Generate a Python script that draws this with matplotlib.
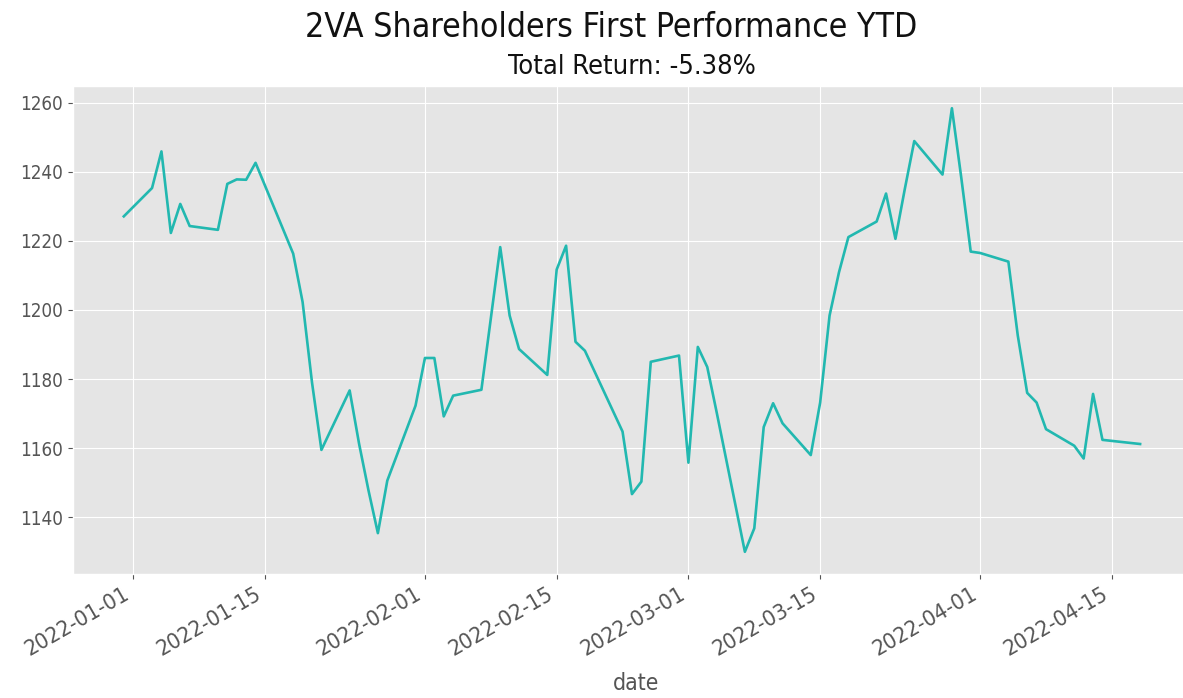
import matplotlib
matplotlib.use("Agg")
import matplotlib.pyplot as plt
import matplotlib.dates as mdates
import pandas as pd

plt.style.use("ggplot")
plt.rcParams["font.family"] = ["DejaVu Sans"]
plt.rcParams["font.stretch"] = "condensed"

dates = [
    "2021-12-31", "2022-01-03", "2022-01-04", "2022-01-05", "2022-01-06", "2022-01-07",
    "2022-01-10", "2022-01-11", "2022-01-12", "2022-01-13", "2022-01-14",
    "2022-01-18", "2022-01-19", "2022-01-20", "2022-01-21",
    "2022-01-24", "2022-01-25", "2022-01-26", "2022-01-27", "2022-01-28",
    "2022-01-31", "2022-02-01", "2022-02-02", "2022-02-03", "2022-02-04",
    "2022-02-07", "2022-02-08", "2022-02-09", "2022-02-10", "2022-02-11",
    "2022-02-14", "2022-02-15", "2022-02-16", "2022-02-17", "2022-02-18",
    "2022-02-22", "2022-02-23", "2022-02-24", "2022-02-25",
    "2022-02-28", "2022-03-01", "2022-03-02", "2022-03-03", "2022-03-04",
    "2022-03-07", "2022-03-08", "2022-03-09", "2022-03-10", "2022-03-11",
    "2022-03-14", "2022-03-15", "2022-03-16", "2022-03-17", "2022-03-18",
    "2022-03-21", "2022-03-22", "2022-03-23", "2022-03-24", "2022-03-25",
    "2022-03-28", "2022-03-29", "2022-03-30", "2022-03-31", "2022-04-01",
    "2022-04-04", "2022-04-05", "2022-04-06", "2022-04-07", "2022-04-08",
    "2022-04-11", "2022-04-12", "2022-04-13", "2022-04-14", "2022-04-18",
]

values = [
    1227.1, 1235.3, 1245.9, 1222.3, 1230.7, 1224.3,
    1223.2, 1236.5, 1237.8, 1237.7, 1242.6,
    1216.3, 1202.3, 1179.0, 1159.5,
    1176.7, 1161.3, 1147.8, 1135.4, 1150.6,
    1172.3, 1186.1, 1186.1, 1169.2, 1175.2,
    1176.9, 1197.5, 1218.2, 1198.4, 1188.7,
    1181.2, 1211.7, 1218.6, 1190.8, 1188.2,
    1164.8, 1146.7, 1150.3, 1185.0,
    1186.8, 1155.8, 1189.3, 1183.5, 1170.4,
    1130.0, 1136.8, 1166.1, 1173.0, 1167.2,
    1158.0, 1173.2, 1198.4, 1210.9, 1221.1,
    1225.6, 1233.7, 1220.6, 1235.1, 1248.9,
    1239.2, 1258.4, 1238.2, 1216.9, 1216.5,
    1214.0, 1192.6, 1176.0, 1173.2, 1165.5,
    1160.7, 1157.0, 1175.7, 1162.4, 1161.2,
]

title = "2VA Shareholders First Performance YTD"
subtitle = "Total Return: -5.38%"
xlabel = "date"

series = pd.Series(values, index=pd.to_datetime(dates))

fig = plt.figure(figsize=(11.83, 6.98), dpi=100)
ax = fig.add_axes([0.0617, 0.1777, 0.945, 0.699])

ax.plot(series.index, series.values, color="#22B8B0", linewidth=1.9)

ax.xaxis.set_major_locator(mdates.DayLocator(bymonthday=[1, 15]))
ax.xaxis.set_major_formatter(mdates.DateFormatter("%Y-%m-%d"))
ax.set_yticks([1140, 1160, 1180, 1200, 1220, 1240, 1260])

ax.tick_params(axis="y", labelsize=13.5, colors="#555555")
ax.tick_params(axis="x", labelsize=16, colors="#555555")
for lbl in ax.get_xticklabels():
    lbl.set_rotation(30)
    lbl.set_ha("right")

ax.set_xlabel(xlabel, fontsize=16.5, color="#555555")
ax.xaxis.set_label_coords(636 / 1183, 1 - 684 / 698, transform=fig.transFigure)
ax.xaxis.label.set_va("center")

ax.set_title(subtitle, fontsize=19.5, color="#111111", pad=9)
fig.text(0.5165, 0.947, title, ha="center", va="baseline", fontsize=24.2, color="#111111")

fig.savefig("out.png", dpi=100)
